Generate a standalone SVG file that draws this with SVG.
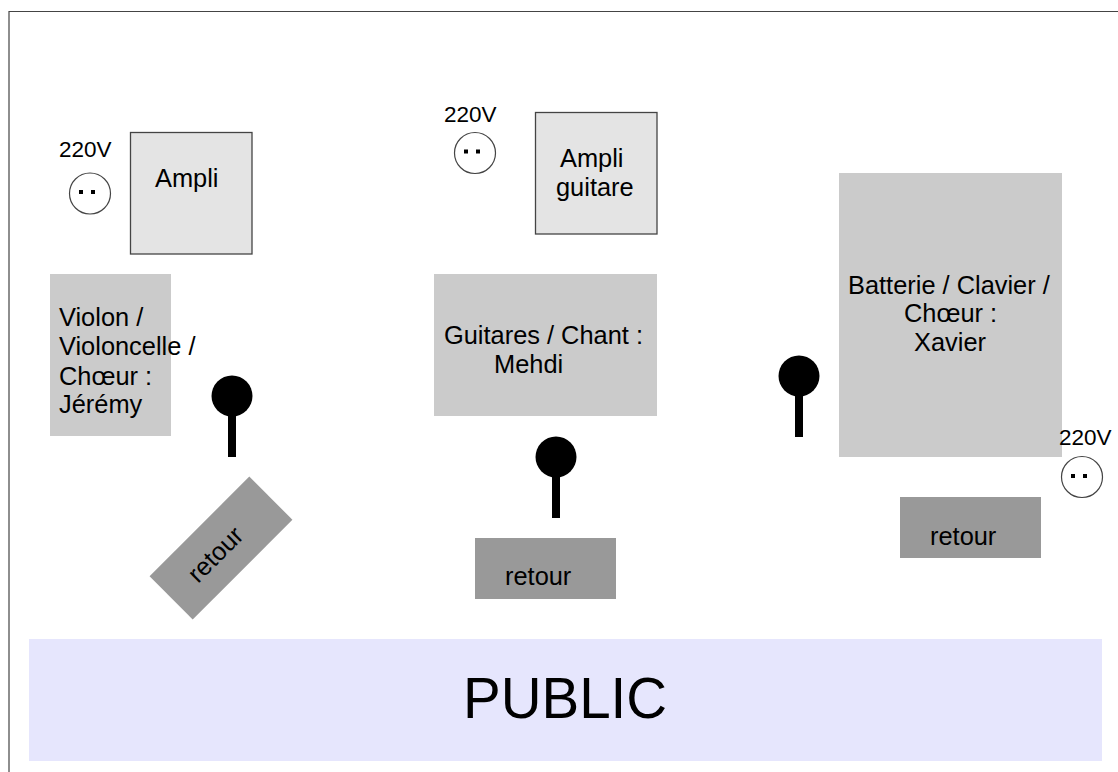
<svg xmlns="http://www.w3.org/2000/svg" width="1118" height="772" viewBox="0 0 1118 772">
<style>
text{font-family:"Liberation Sans",Arial,sans-serif;fill:#000;font-size:25.400px}
.v{font-size:22.500px}
.amp{fill:#e4e4e4;stroke:#444;stroke-width:1.300}
.grey{fill:#cbcbcb}
.ret{fill:#999999}
.out{fill:#fff;stroke:#444;stroke-width:1.200}
.stem{stroke:#000;stroke-width:8;fill:none}
</style>
<rect width="1118" height="772" fill="#fff"/>
<path d="M9 772V11.500H1118" fill="none" stroke="#444" stroke-width="1.200"/>
<g id="public"><rect x="29" y="639" width="1073" height="122" fill="#e6e6fd"/><text x="463" y="718" style="font-size:56.500px">PUBLIC</text></g>
<g id="ampli"><rect class="amp" x="130.500" y="132.500" width="121.500" height="121.500"/><text x="155" y="187">Ampli</text></g>
<g id="ampli-guitare"><rect class="amp" x="535.500" y="112.500" width="121.500" height="121.500"/><text x="560" y="167">Ampli</text><text x="556" y="196">guitare</text></g>
<g id="violon"><rect class="grey" x="50" y="274" width="121" height="162"/><text x="59" y="326">Violon /</text><text x="59" y="355">Violoncelle /</text><text x="59" y="385">Chœur :</text><text x="59" y="413">Jérémy</text></g>
<g id="guitares"><rect class="grey" x="434" y="274" width="223" height="142"/><text x="444" y="344">Guitares / Chant :</text><text x="494" y="373">Mehdi</text></g>
<g id="batterie"><rect class="grey" x="839" y="173" width="223" height="284"/><text x="848" y="294">Batterie / Clavier /</text><text x="904" y="322">Chœur :</text><text x="914" y="351">Xavier</text></g>
<g id="retour-1"><rect class="ret" x="150.500" y="517.500" width="141" height="61" transform="rotate(-45 221 548)"/><text transform="translate(198 584) rotate(-45)">retour</text></g>
<g id="retour-2"><rect class="ret" x="475" y="538" width="141" height="61"/><text x="505" y="585">retour</text></g>
<g id="retour-3"><rect class="ret" x="900" y="497" width="141" height="61"/><text x="930" y="545">retour</text></g>
<g id="prise-1"><text class="v" x="59" y="157">220V</text><circle class="out" cx="90" cy="193.500" r="20.500"/><rect x="79" y="190" width="4" height="4"/><rect x="91" y="190" width="4" height="4"/></g>
<g id="prise-2"><text class="v" x="444" y="122">220V</text><circle class="out" cx="475" cy="153" r="20.500"/><rect x="464" y="149.500" width="4" height="4"/><rect x="476" y="149.500" width="4" height="4"/></g>
<g id="prise-3"><text class="v" x="1059" y="445">220V</text><circle class="out" cx="1082" cy="477" r="20.500"/><rect x="1071" y="474" width="4" height="4"/><rect x="1083" y="474" width="4" height="4"/></g>
<g id="micro-1"><circle cx="232" cy="396" r="20.500"/><path class="stem" d="M232 410V457"/></g>
<g id="micro-2"><circle cx="556" cy="457" r="20.500"/><path class="stem" d="M556 470V518"/></g>
<g id="micro-3"><circle cx="799" cy="376" r="20.500"/><path class="stem" d="M799 390V437"/></g>
<g id="connectors"></g>
</svg>
